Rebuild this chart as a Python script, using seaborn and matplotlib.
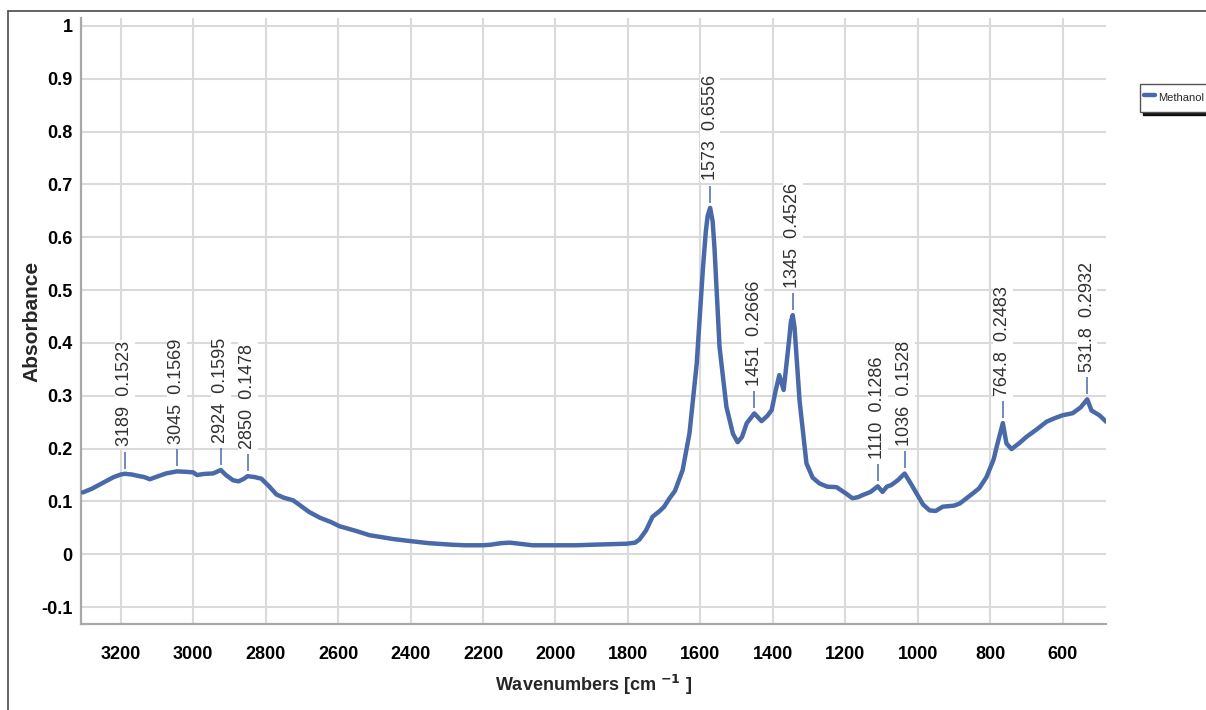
import matplotlib
matplotlib.use("Agg")
import matplotlib.pyplot as plt
from matplotlib.lines import Line2D
from matplotlib.ticker import MultipleLocator, FuncFormatter
import numpy as np
import pandas as pd
import seaborn as sns

# FTIR absorbance spectrum of the methanol sample (descending wavenumber)
wavenumbers = [
    3305, 3280, 3250, 3220, 3200, 3189, 3170, 3150, 3135, 3120, 3100, 3075,
    3045, 3020, 3000, 2990, 2970, 2945, 2924, 2910, 2890, 2875, 2860, 2850,
    2830, 2812, 2790, 2770, 2750, 2724, 2700, 2680, 2650, 2620, 2596, 2550,
    2513, 2485, 2450, 2402, 2350, 2284, 2250, 2201, 2180, 2150, 2126, 2100,
    2063, 2000, 1941, 1900, 1850, 1803, 1780, 1768, 1750, 1732, 1712, 1700,
    1685, 1670, 1649, 1630, 1610, 1593, 1585, 1580, 1573, 1566, 1561, 1547,
    1528, 1510, 1497, 1485, 1472, 1451, 1431, 1415, 1403, 1392, 1382, 1370,
    1355, 1350, 1345, 1340, 1326, 1307, 1290, 1271, 1250, 1224, 1200, 1180,
    1165, 1152, 1130, 1110, 1097, 1085, 1073, 1055, 1036, 1020, 1003, 985,
    967, 950, 931, 900, 884, 848, 830, 810, 790, 782, 764.8, 755,
    741, 720, 700, 670, 644, 620, 600, 572, 550, 531.8, 520, 498, 480,
]
absorbance = [
    0.117, 0.124, 0.135, 0.146, 0.151, 0.1523, 0.151, 0.148, 0.146, 0.142, 0.147, 0.153,
    0.1569, 0.156, 0.155, 0.150, 0.152, 0.153, 0.1595, 0.150, 0.140, 0.138, 0.143, 0.1478,
    0.146, 0.143, 0.128, 0.113, 0.107, 0.102, 0.090, 0.080, 0.069, 0.061, 0.053, 0.044,
    0.036, 0.033, 0.029, 0.025, 0.021, 0.018, 0.017, 0.017, 0.018, 0.021, 0.022, 0.020,
    0.017, 0.017, 0.017, 0.018, 0.019, 0.020, 0.022, 0.028, 0.045, 0.071, 0.082, 0.090,
    0.106, 0.120, 0.159, 0.229, 0.361, 0.540, 0.610, 0.640, 0.6556, 0.630, 0.580, 0.392,
    0.279, 0.228, 0.212, 0.222, 0.248, 0.2666, 0.252, 0.262, 0.273, 0.310, 0.339, 0.311,
    0.405, 0.440, 0.4526, 0.430, 0.290, 0.172, 0.145, 0.134, 0.128, 0.127, 0.116, 0.106,
    0.108, 0.112, 0.118, 0.1286, 0.118, 0.128, 0.131, 0.140, 0.1528, 0.135, 0.115, 0.094,
    0.083, 0.082, 0.090, 0.092, 0.096, 0.115, 0.125, 0.146, 0.180, 0.203, 0.2483, 0.210,
    0.199, 0.210, 0.222, 0.237, 0.251, 0.258, 0.263, 0.267, 0.278, 0.2932, 0.272, 0.263, 0.251,
]

# Picked peaks: position label and absorbance
peak_labels = ["3189", "3045", "2924", "2850", "1573", "1451", "1345",
               "1110", "1036", "764.8", "531.8"]
peak_wn = [3189, 3045, 2924, 2850, 1573, 1451, 1345, 1110, 1036, 764.8, 531.8]
peak_abs = [0.1523, 0.1569, 0.1595, 0.1478, 0.6556, 0.2666, 0.4526,
            0.1286, 0.1528, 0.2483, 0.2932]

series_name = "Methanol"
line_color = "#4a69a9"

sns.set_style("whitegrid")
plt.rcParams["font.family"] = ["Liberation Sans Narrow", "Liberation Sans", "DejaVu Sans"]
plt.rcParams["font.weight"] = "bold"
plt.rcParams["mathtext.fontset"] = "custom"
plt.rcParams["mathtext.rm"] = "Liberation Sans Narrow:bold"
plt.rcParams["mathtext.default"] = "rm"

W, H = 1206, 710
fig = plt.figure(figsize=(W / 100, H / 100), dpi=100)
fig.patch.set_facecolor("white")
ax = fig.add_axes([81 / W, 1 - 624 / H, (1106 - 81) / W, (624 - 18) / H])
ax.set_facecolor("white")

df = pd.DataFrame({"Wavenumber": wavenumbers, "Absorbance": absorbance})
sns.lineplot(data=df, x="Wavenumber", y="Absorbance", ax=ax, color=line_color,
             lw=3.2, sort=False, estimator=None, label=series_name, zorder=3)

ax.set_xlim(3310, 480)
ax.set_ylim(-0.132, 1.015)

ax.xaxis.set_major_locator(MultipleLocator(200))
ax.xaxis.set_minor_locator(MultipleLocator(50))
ax.yaxis.set_major_locator(MultipleLocator(0.1))
ax.yaxis.set_minor_locator(MultipleLocator(0.02))
ax.xaxis.set_major_formatter(FuncFormatter(lambda v, p: f"{int(round(v))}"))
ax.yaxis.set_major_formatter(FuncFormatter(lambda v, p: f"{round(v, 2) + 0.0:g}"))

ax.grid(True, which="major", color="#dadada", lw=1.5, zorder=0)
ax.grid(False, which="minor")
for side in ("top", "right"):
    ax.spines[side].set_visible(False)
for side in ("left", "bottom"):
    ax.spines[side].set_color("#a8a8a8")
    ax.spines[side].set_linewidth(1.6)

ax.tick_params(axis="both", which="major", length=4, width=1.3, color="#a8a8a8",
               labelsize=13, labelcolor="black")
ax.tick_params(axis="both", which="minor", length=3, width=1.1, color="#a8a8a8")
ax.tick_params(axis="x", which="major", pad=12)
ax.tick_params(axis="y", which="major", pad=2)

ax.set_xlabel("Wavenumbers [cm $^{-1}$ ]", fontsize=13, fontweight="bold")
ax.set_ylabel("Absorbance", fontsize=15, fontweight="bold",
              family=["Liberation Sans", "DejaVu Sans"])
ax.xaxis.set_label_coords(0.5, -0.080)
ax.yaxis.set_label_coords(-0.039, 0.5)

# Peak markers: short tick above each peak and a rotated position/height label
for lab, wn, a in zip(peak_labels, peak_wn, peak_abs):
    ax.vlines(wn, a + 0.010, a + 0.042, color=line_color, lw=1.1, zorder=4)
    ax.text(wn, a + 0.052, f"{lab}  {a:.4f}", rotation=90, ha="center", va="bottom",
            fontsize=13, fontweight="normal", color="#303030",
            family=["Liberation Sans", "DejaVu Sans"],
            bbox=dict(facecolor="white", edgecolor="none", pad=1.0), zorder=5)

leg = ax.legend(loc="upper left", bbox_to_anchor=(1140 / W, 1 - 84 / H),
                bbox_transform=fig.transFigure, frameon=True, fancybox=False,
                shadow={"color": "black", "alpha": 0.9}, edgecolor="#555555",
                prop={"family": ["Liberation Sans Narrow", "Liberation Sans"],
                      "size": 8.0, "weight": "normal"},
                handlelength=1.0, handleheight=2.4, handletextpad=0.25,
                borderpad=0.35, borderaxespad=0)
leg.get_frame().set_linewidth(1.0)

# Outer frame around the plot area
fig.add_artist(Line2D([8 / W, 1.0], [1 - 11 / H, 1 - 11 / H], color="#4a4a4a", lw=1.2))
fig.add_artist(Line2D([8 / W, 8 / W], [0.0, 1 - 11 / H], color="#4a4a4a", lw=1.2))

fig.savefig("out.png", dpi=100)
